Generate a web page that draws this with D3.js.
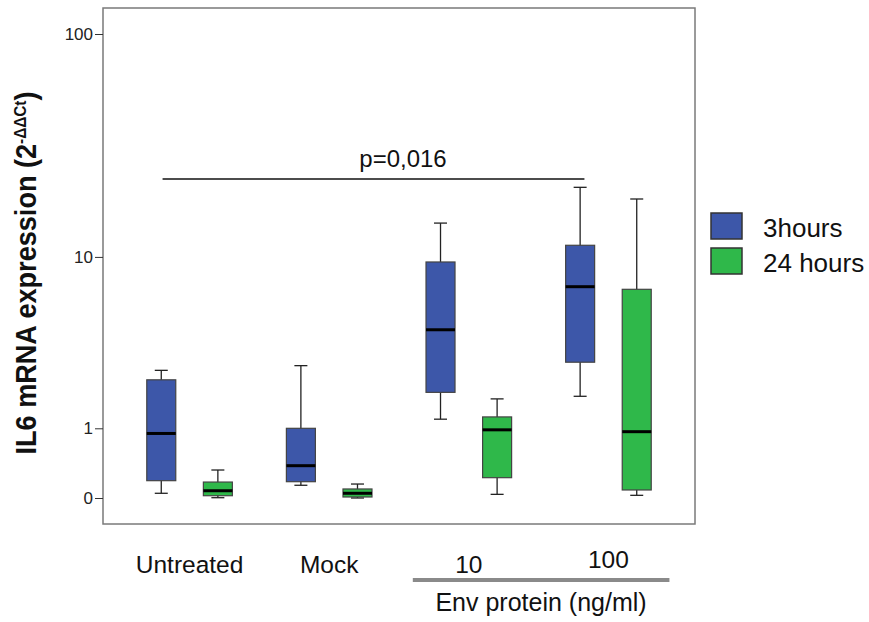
<!DOCTYPE html>
<html>
<head>
  <meta charset="utf-8">
  <title>IL6 mRNA expression</title>
  <style>
    body { margin: 0; background: #fff; }
    text { font-family: "Liberation Sans", Arial, sans-serif; fill: #111; }
    .axis--y path { display: none; }
    .axis--y line { stroke: #333; }
    .axis--y text { font-size: 17px; fill: #222; }
  </style>
</head>
<body>
<svg width="869" height="622"></svg>
<script src="https://cdn.jsdelivr.net/npm/d3@7"></script>
<script>
  var groups = ["Untreated", "Mock", "10", "100"];
  var series = ["3hours", "24 hours"];
  var colors = ["#3d57a9", "#2fb84a"];
  var yTicks = [0, 1, 10, 100];

  // [min, q1, median, q3, max] per group
  var hours3 = [
    [0.048, 0.188, 0.90, 2.24, 2.56],
    [0.135, 0.176, 0.379, 1.0, 2.73],
    [1.19, 1.86, 4.33, 9.46, 14.4],
    [1.75, 2.86, 7.18, 11.35, 20.98]
  ];
  var hours24 = [
    [0.003, 0.023, 0.075, 0.172, 0.321],
    [0.0, 0.01, 0.048, 0.094, 0.149],
    [0.037, 0.224, 0.97, 1.24, 1.68],
    [0.027, 0.083, 0.934, 6.97, 18.57]
  ];
  var pLabel = "p=0,016";

  var svg = d3.select("svg"),
      frame = {left: 103, right: 695, top: 8, bottom: 524};

  var x = d3.scalePoint().domain(groups).range([frame.left, frame.right]).padding(0.62),
      xs = d3.scalePoint().domain(series).range([-28.3, 28.3]),
      y = d3.scaleSymlog().constant(1).domain([0, 100]).range([498, 34]);

  var boxW = 29, capW = 13;

  var boxes = [];
  series.forEach(function(s, si) {
    var vals = si === 0 ? hours3 : hours24;
    groups.forEach(function(g, gi) {
      var v = vals[gi];
      boxes.push({group: g, series: s, color: colors[si],
        min: v[0], q1: v[1], med: v[2], q3: v[3], max: v[4]});
    });
  });

  // plot frame
  svg.append("rect")
      .attr("x", frame.left).attr("y", frame.top)
      .attr("width", frame.right - frame.left)
      .attr("height", frame.bottom - frame.top)
      .attr("fill", "none").attr("stroke", "#7a7a7a").attr("stroke-width", 1.5);

  svg.append("g")
      .attr("class", "axis axis--y")
      .attr("transform", "translate(" + frame.left + ",0)")
      .call(d3.axisLeft(y).tickValues(yTicks).tickFormat(d3.format("d")).tickSize(8).tickPadding(2));

  var box = svg.selectAll(".box")
    .data(boxes)
    .enter().append("g")
      .attr("class", "box")
      .attr("transform", function(d) { return "translate(" + (x(d.group) + xs(d.series)) + ",0)"; });

  box.append("line")
      .attr("x1", 0).attr("x2", 0)
      .attr("y1", function(d) { return y(d.max); })
      .attr("y2", function(d) { return y(d.min); })
      .attr("stroke", "#222").attr("stroke-width", 1.3);

  box.selectAll(".cap")
    .data(function(d) { return [d.min, d.max]; })
    .enter().append("line")
      .attr("x1", -capW / 2).attr("x2", capW / 2)
      .attr("y1", function(v) { return y(v); })
      .attr("y2", function(v) { return y(v); })
      .attr("stroke", "#222").attr("stroke-width", 1.3);

  box.append("rect")
      .attr("x", -boxW / 2).attr("width", boxW)
      .attr("y", function(d) { return y(d.q3); })
      .attr("height", function(d) { return y(d.q1) - y(d.q3); })
      .attr("fill", function(d) { return d.color; })
      .attr("stroke", "#444").attr("stroke-width", 1.2);

  box.append("line")
      .attr("x1", -boxW / 2).attr("x2", boxW / 2)
      .attr("y1", function(d) { return y(d.med); })
      .attr("y2", function(d) { return y(d.med); })
      .attr("stroke", "#000").attr("stroke-width", 3);

  // significance bar
  svg.append("line")
      .attr("x1", x(groups[0]) - 27).attr("x2", x(groups[3]) - 24)
      .attr("y1", 179).attr("y2", 179)
      .attr("stroke", "#111").attr("stroke-width", 1.5);
  svg.append("text")
      .attr("x", 403).attr("y", 167)
      .attr("text-anchor", "middle")
      .style("font-size", "24px")
      .text(pLabel);

  // x labels
  svg.selectAll(".xlabel")
    .data(groups)
    .enter().append("text")
      .attr("class", "xlabel")
      .attr("x", function(d) { return x(d); })
      .attr("y", function(d) { return d === "100" ? 568 : 573; })
      .attr("text-anchor", "middle")
      .style("font-size", "24.5px")
      .text(function(d) { return d; });

  svg.append("line")
      .attr("x1", x("10") - 56).attr("x2", x("100") + 61)
      .attr("y1", 580).attr("y2", 580)
      .attr("stroke", "#8a8a8a").attr("stroke-width", 4);

  svg.append("text")
      .attr("x", 541).attr("y", 611)
      .attr("text-anchor", "middle")
      .style("font-size", "25px")
      .text("Env protein (ng/ml)");

  // y title
  var yt = svg.append("text")
      .attr("transform", "translate(36,273) rotate(-90)")
      .attr("text-anchor", "middle")
      .attr("textLength", 363)
      .attr("lengthAdjust", "spacingAndGlyphs")
      .style("font-size", "30px")
      .style("font-weight", "bold");
  yt.append("tspan").text("IL6 mRNA expression (2");
  yt.append("tspan").attr("dy", -10).style("font-size", "17px").text("-ΔΔCt");
  yt.append("tspan").attr("dy", 10).text(")");

  // legend
  var legend = svg.selectAll(".legend")
    .data(series)
    .enter().append("g")
      .attr("class", "legend")
      .attr("transform", function(d, i) { return "translate(711," + (213 + i * 35) + ")"; });

  legend.append("rect")
      .attr("width", 31).attr("height", 26)
      .attr("fill", function(d, i) { return colors[i]; })
      .attr("stroke", "#333").attr("stroke-width", 1.5);

  legend.append("text")
      .attr("x", 52).attr("y", 24)
      .style("font-size", "26px")
      .text(function(d) { return d; });
</script>
</body>
</html>
